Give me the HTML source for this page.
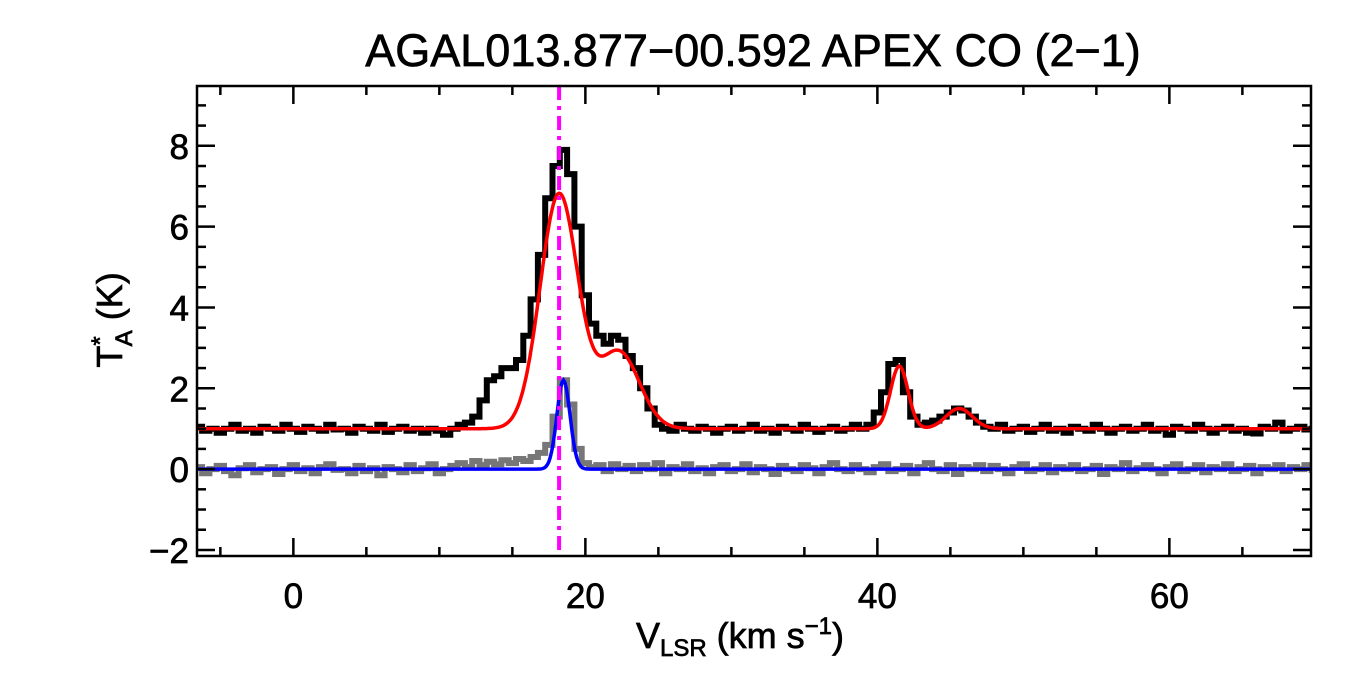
<!DOCTYPE html>
<html><head><meta charset="utf-8"><style>
html,body{margin:0;padding:0;background:#fff;width:1350px;height:675px;overflow:hidden}
svg text{font-family:"Liberation Sans",sans-serif;fill:#000;stroke:#000;stroke-width:0.7}
</style></head><body>
<svg id="chart" width="1350" height="675" viewBox="0 0 1350 675" xmlns="http://www.w3.org/2000/svg">
<text x="753" y="66" font-size="45" text-anchor="middle">AGAL013.877−00.592  APEX CO (2−1)</text>
<g id="plot"></g>
<text x="740" y="648" font-size="36" text-anchor="middle">V<tspan font-size="24" dy="8">LSR</tspan><tspan dy="-8"> (km s</tspan><tspan font-size="24" dy="-14">−1</tspan><tspan dy="14">)</tspan></text>
<text transform="translate(122,320) rotate(-90)" font-size="36" text-anchor="middle">T<tspan font-size="24" dy="-14">*</tspan><tspan font-size="24" dx="-10" dy="24">A</tspan><tspan dy="-10"> (K)</tspan></text>
</svg>
<script>
const xTicks=[0,20,40,60];
const yTicks=[-2,0,2,4,6,8];
const v0=-6.5, dv=0.5;
const observed=[1.05,0.95,1.0,0.9,1.0,1.1,0.95,1.0,0.9,1.05,
1.0,0.95,1.1,1.0,0.92,1.05,1.0,0.95,1.1,0.98,
1.0,0.9,1.05,1.0,0.95,1.1,0.92,1.0,1.05,0.95,
1.0,0.9,1.0,0.95,0.85,1.0,1.1,1.15,1.3,1.7,
2.2,2.3,2.5,2.5,2.7,3.3,4.2,5.3,6.7,7.5,
7.9,7.3,6.0,4.3,3.6,3.3,3.1,3.3,3.2,2.8,
2.5,2.0,1.5,1.1,1.0,0.95,1.1,1.0,0.95,1.05,
1.0,0.9,1.0,1.05,0.95,1.0,1.1,0.95,1.0,0.9,
1.05,1.0,0.95,1.1,1.0,0.92,1.0,1.05,0.95,1.0,
1.1,1.0,1.1,1.4,1.9,2.6,2.7,1.9,1.3,1.1,
1.15,1.2,1.3,1.4,1.5,1.45,1.3,1.15,1.05,1.0,
1.1,0.95,1.0,1.05,0.92,1.0,1.1,0.95,1.0,0.9,
1.05,1.0,0.95,1.1,1.0,0.9,1.0,1.05,0.95,1.0,
1.1,0.95,1.0,0.85,1.05,1.0,0.95,1.1,1.0,0.9,
1.0,1.05,0.95,1.0,0.9,0.88,1.05,1.0,1.15,0.95,
1.0,1.05,0.98,1.0];
const residual=[0.05,-0.1,0.0,0.08,-0.05,-0.15,0.02,0.1,-0.08,0.0,
0.05,-0.12,0.0,0.1,-0.05,0.02,-0.1,0.05,0.12,-0.02,
0.0,-0.1,0.08,-0.05,0.02,-0.15,0.05,0.0,-0.08,0.1,
-0.05,0.02,0.12,-0.1,0.0,0.08,0.15,0.05,0.2,0.1,
0.18,0.12,0.22,0.15,0.25,0.2,0.3,0.4,0.6,1.3,
2.2,1.6,0.5,0.15,0.05,0.1,-0.05,0.12,0.0,0.08,
-0.05,0.1,0.0,0.15,-0.1,0.05,0.0,0.12,-0.05,0.02,
-0.1,0.05,0.1,-0.05,0.0,0.12,-0.08,0.05,0.0,-0.12,
0.08,0.0,-0.05,0.1,0.02,-0.1,0.05,0.15,0.0,-0.05,
0.1,0.0,-0.08,0.05,0.12,-0.05,0.0,0.08,-0.1,0.05,
0.15,0.0,-0.05,0.1,-0.12,0.05,0.0,0.1,-0.05,0.08,
0.0,-0.1,0.05,0.12,-0.05,0.0,0.1,-0.08,0.05,0.0,
0.1,-0.05,0.0,0.08,-0.12,0.05,0.0,0.15,-0.05,0.02,
0.1,0.0,-0.1,0.05,0.12,-0.05,0.0,0.1,-0.08,0.05,
0.0,0.12,-0.05,0.0,0.08,-0.1,0.05,0.0,0.1,-0.05,
0.05,0.0,0.1,-0.02];
const fitBaseline=1.0;
const fitAmps=[5.8,1.9,1.55,0.5];
const fitCenters=[18.2,22.3,41.5,45.6];
const fitSigmas=[1.3,1.4,0.6,0.9];
const blueAmps=[2.2];
const blueCenters=[18.5];
const blueSigmas=[0.45];
const markerV=18.2;

const L=197,R=1311,T=86,B=556,xmin=-6.6,xmax=69.7,ymin=-2.15,ymax=9.48;
const X=v=>L+(v-xmin)/(xmax-xmin)*(R-L);
const Y=t=>B-(t-ymin)/(ymax-ymin)*(B-T);
const NS='http://www.w3.org/2000/svg';
const g=document.getElementById('plot');
function mk(tag,attrs){const e=document.createElementNS(NS,tag);for(const k in attrs)e.setAttribute(k,attrs[k]);g.appendChild(e);return e;}
const cp=document.createElementNS(NS,'clipPath');cp.id='clip';
const cr=document.createElementNS(NS,'rect');cr.setAttribute('x',L);cr.setAttribute('y',T);cr.setAttribute('width',R-L);cr.setAttribute('height',B-T);cp.appendChild(cr);g.appendChild(cp);
function step(arr){let d='';arr.forEach((t,i)=>{const a=X(v0+dv*i-dv/2),b=X(v0+dv*i+dv/2),y=Y(t);d+=(i?'L':'M')+a.toFixed(1)+','+y.toFixed(1)+'L'+b.toFixed(1)+','+y.toFixed(1);});return d;}
function gauss(base,A,C,S){let d='';for(let v=xmin;v<=xmax;v+=0.1){let t=base;for(let k=0;k<A.length;k++)t+=A[k]*Math.exp(-0.5*Math.pow((v-C[k])/S[k],2));d+=(d?'L':'M')+X(v).toFixed(1)+','+Y(t).toFixed(1);}return d;}
let e;
e=mk('path',{d:step(residual),fill:'none',stroke:'#777',"stroke-width":6,"clip-path":'url(#clip)'});


e=mk('path',{d:step(observed),fill:'none',stroke:'#000',"stroke-width":6,"clip-path":'url(#clip)'});


e=mk('path',{d:gauss(fitBaseline,fitAmps,fitCenters,fitSigmas),fill:'none',stroke:'#f00',"stroke-width":3.5,"clip-path":'url(#clip)'});


e=mk('path',{d:gauss(0,blueAmps,blueCenters,blueSigmas),fill:'none',stroke:'#00f',"stroke-width":3.5,"clip-path":'url(#clip)'});


e=mk('line',{x1:X(markerV),x2:X(markerV),y1:T,y2:B,stroke:'#f0f',"stroke-width":4,"stroke-dasharray":'14,6,4,6'});


e=mk('rect',{x:L,y:T,width:R-L,height:B-T,fill:'none',stroke:'#000',"stroke-width":2.5});


for(let v=-5;v<=xmax;v+=5){const maj=v%20===0,len=maj?18:9,x=X(v);
 e=mk('line',{x1:x,x2:x,y1:B,y2:B-len,stroke:'#000',"stroke-width":2.5});
 e=mk('line',{x1:x,x2:x,y1:T,y2:T+len,stroke:'#000',"stroke-width":2.5});}
xTicks.forEach(v=>{e=mk('text',{x:X(v),y:B+52,"font-size":35,"text-anchor":'middle'});e.textContent=v;});
for(let t=-2;t<=ymax;t+=0.5){const maj=Math.abs(t%2)<1e-6,len=maj?18:9,y=Y(t);
 e=mk('line',{x1:L,x2:L+len,y1:y,y2:y,stroke:'#000',"stroke-width":2.5});
 e=mk('line',{x1:R,x2:R-len,y1:y,y2:y,stroke:'#000',"stroke-width":2.5});}
yTicks.forEach(t=>{e=mk('text',{x:L-8,y:Y(t)+13,"font-size":35,"text-anchor":'end'});e.textContent=t<0?'−'+(-t):t;});
</script>
</body></html>
